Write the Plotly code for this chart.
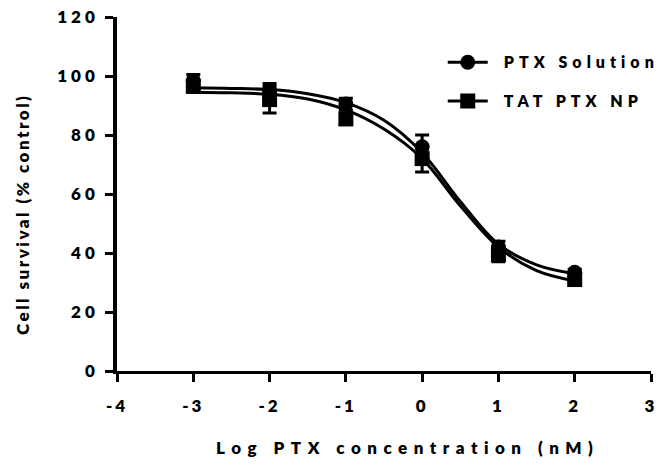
import plotly.graph_objects as go

# ---- data ----
log_conc = [-3, -2, -1, 0, 1, 2]
ptx_solution = [98.5, 95.0, 90.5, 76.0, 42.0, 33.5]
ptx_solution_err = [2.0, 2.5, 2.0, 4.0, 2.0, 1.0]
tat_ptx_np = [96.5, 92.0, 85.5, 72.0, 39.5, 31.0]
tat_ptx_np_err = [2.0, 4.5, 2.0, 4.5, 2.5, 1.0]

# fitted sigmoid curves
curve_x = [-3, -2.5, -2, -1.5, -1, -0.5, 0, 0.5, 1, 1.5, 2]
ptx_solution_fit = [96.0, 95.8, 95.4, 94.0, 91.0, 85.0, 74.0, 57.5, 43.0, 36.0, 33.0]
tat_ptx_np_fit = [94.5, 94.3, 93.8, 92.2, 88.5, 82.0, 72.0, 56.0, 42.0, 34.0, 30.5]

x_ticks = [-4, -3, -2, -1, 0, 1, 2, 3]
y_ticks = [0, 20, 40, 60, 80, 100, 120]

x_title = "Log PTX concentration (nM)"
y_title = "Cell survival (% control)"

FONT = "Lato"
WEIGHT = 800


def spaced(s, ls):
    return f'<span style="letter-spacing:{ls}px">{s}</span>'


fig = go.Figure()

series = [
    ("PTX Solution", ptx_solution, ptx_solution_err, ptx_solution_fit, "circle"),
    ("TAT PTX NP", tat_ptx_np, tat_ptx_np_err, tat_ptx_np_fit, "square"),
]

for name, vals, errs, fit, sym in series:
    fig.add_trace(go.Scatter(
        x=curve_x, y=fit, mode="lines",
        line=dict(color="black", width=3, shape="spline", smoothing=1.0),
        showlegend=False, hoverinfo="skip"))

for name, vals, errs, fit, sym in series:
    fig.add_trace(go.Scatter(
        x=log_conc, y=vals, mode="markers",
        marker=dict(symbol=sym, size=15, color="black"),
        error_y=dict(type="data", array=errs, color="black", thickness=3, width=7),
        showlegend=False))

for name, vals, errs, fit, sym in series:
    fig.add_trace(go.Scatter(
        x=[None], y=[None], mode="lines+markers",
        name="&nbsp;&nbsp;&nbsp;" + spaced(name, 5),
        legendgroup=name,
        line=dict(color="black", width=3),
        marker=dict(symbol=sym, size=15, color="black")))

fig.update_layout(
    width=661, height=465,
    margin=dict(l=117, r=10, t=17, b=94, autoexpand=False),
    paper_bgcolor="white", plot_bgcolor="white",
    font=dict(family=FONT, size=16, color="black", weight=WEIGHT),
    legend=dict(x=0.61, y=0.92, xanchor="left", yanchor="top",
                bgcolor="rgba(0,0,0,0)", tracegroupgap=15, itemwidth=40,
                font=dict(size=16, family=FONT, weight=WEIGHT)),
    annotations=[
        dict(text=spaced(x_title, 6.5), xref="paper", yref="paper",
             x=0.5449, y=-0.2147, xanchor="center", yanchor="middle", showarrow=False,
             font=dict(size=17, family=FONT, weight=WEIGHT)),
        dict(text=spaced(y_title, 2.5), xref="paper", yref="paper",
             x=-0.178, y=0.4435, xanchor="center", yanchor="middle", showarrow=False,
             textangle=-90, font=dict(size=17, family=FONT, weight=WEIGHT)),
    ],
)

fig.update_xaxes(
    range=[-4, 3], tickvals=x_ticks, ticktext=[spaced(str(v), 3) for v in x_ticks],
    showgrid=False, zeroline=False, showline=True, linecolor="black", linewidth=3,
    ticks="outside", ticklen=8, tickwidth=3, tickcolor="black",
    ticklabelstandoff=10,
    tickfont=dict(size=17, family=FONT, weight=WEIGHT),
)
fig.update_yaxes(
    range=[0, 120], tickvals=y_ticks, ticktext=[spaced(str(v), 4) for v in y_ticks],
    showgrid=False, zeroline=False, showline=True, linecolor="black", linewidth=3.5,
    ticks="outside", ticklen=8, tickwidth=3, tickcolor="black",
    ticklabelstandoff=3,
    tickfont=dict(size=17, family=FONT, weight=WEIGHT),
)

fig.write_html("out.html")
